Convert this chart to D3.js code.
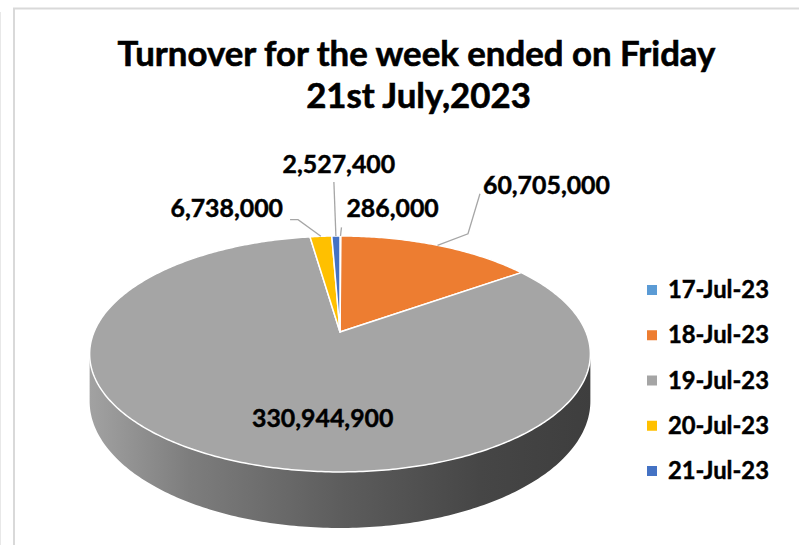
<!DOCTYPE html>
<html>
<head>
<meta charset="utf-8">
<script src="https://cdn.jsdelivr.net/npm/d3@7/dist/d3.min.js"></script>
<style>
  html, body { margin: 0; padding: 0; background: #fff; }
  svg { display: block; }
  text { font-family: Lato, "Open Sans", sans-serif; font-weight: 700; fill: #000; stroke: #000; stroke-width: 0.45px; }
</style>
</head>
<body>
<svg id="chart" width="799" height="545"></svg>
<script>
// ---- data ----
const categories = ["17-Jul-23", "18-Jul-23", "19-Jul-23", "20-Jul-23", "21-Jul-23"];
const values = [286000, 60705000, 330944900, 6738000, 2527400];
const colors = ["#5b9bd5", "#ed7d31", "#a5a5a5", "#ffc000", "#4472c4"];
const titleLines = ["Turnover for the week ended on Friday", "21st July,2023"];

// ---- layout ----
const W = 799, H = 545;
const cx = 340, cy = 332;      // apex of the pie on screen
const B = 246, A = 113.9;      // horizontal / vertical radii
const P = 0.186;               // perspective factor
const DEPTH = 45.6;            // thickness

// label layout: offsets from the projected slice anchor (or from the apex when inside)
const labelLayout = [
  { tx: 6, ty: -18.6, anchor: "start", leader: [[1, -8.6]] },
  { tx: 45.5, ty: -51, anchor: "start", leader: [[30.5, -11.5], [42.5, -51.5]] },
  { inside: true, tx: -17.3, ty: 94.7, anchor: "middle", leader: null },
  { tx: -37.8, ty: -19.3, anchor: "end", leader: [[-22.8, -16.7], [-30.8, -16.7]] },
  { tx: 3, ty: -63, anchor: "middle", leader: [[-2, -54]] }
];

const svg = d3.select("#chart");

// chart area border
svg.append("line").attr("x1", 0.5).attr("x2", 0.5).attr("y1", 12).attr("y2", H)
  .attr("stroke", "#e8e8e8").attr("stroke-width", 1);
svg.append("rect").attr("x", 14).attr("y", 8.5).attr("width", W + 20).attr("height", H + 20)
  .attr("fill", "#fff").attr("stroke", "#d9d9d9").attr("stroke-width", 2);

function proj(a, r, z) {
  const u = Math.sin(a) * r, v = Math.cos(a) * r;
  const s = 1 / (1 + P * v);
  return [cx + B * u * s, cy - A * v * s + z * DEPTH * s];
}

const pie = d3.pie().sort(null).value(d => d.value).startAngle(0).endAngle(2 * Math.PI);
const data = categories.map((c, i) => ({ cat: c, value: values[i], color: colors[i], layout: labelLayout[i] }));
const arcs = pie(data);

const defs = svg.append("defs");
const grad = defs.append("linearGradient").attr("id", "sideGrad")
  .attr("gradientUnits", "userSpaceOnUse")
  .attr("x1", cx - B * 1.02).attr("x2", cx + B * 1.02).attr("y1", 0).attr("y2", 0);
[[0, "#a2a2a2"], [0.2, "#7d7d7d"], [0.5, "#5d5d5d"], [0.78, "#464646"], [1, "#3e3e3e"]]
  .forEach(([o, c]) => grad.append("stop").attr("offset", o).attr("stop-color", c));

// side wall (front silhouette)
const a1 = Math.acos(-P), a2 = 2 * Math.PI - a1;
const sidePts = [];
const N = 200;
for (let i = 0; i <= N; i++) { const a = a1 + (a2 - a1) * i / N; sidePts.push(proj(a, 1, 0)); }
for (let i = N; i >= 0; i--) { const a = a1 + (a2 - a1) * i / N; sidePts.push(proj(a, 1, 1)); }
svg.append("path").attr("d", d3.line()(sidePts) + "Z").attr("fill", "url(#sideGrad)");

// top face slices
const gTop = svg.append("g");
arcs.forEach(d => {
  const pts = [[cx, cy]];
  const n = Math.max(4, Math.ceil((d.endAngle - d.startAngle) * 80));
  for (let i = 0; i <= n; i++) {
    const a = d.startAngle + (d.endAngle - d.startAngle) * i / n;
    pts.push(proj(a, 1, 0));
  }
  gTop.append("path").attr("d", d3.line()(pts) + "Z")
    .attr("fill", d.data.color).attr("stroke", "#fff").attr("stroke-width", 1.5)
    .attr("stroke-linejoin", "round");
});

// data labels
const fmt = d3.format(",");
const gLab = svg.append("g");
const labelNodes = [];
arcs.forEach(d => {
  const mid = (d.startAngle + d.endAngle) / 2;
  const L = d.data.layout;
  const [ax, ay] = L.inside ? [cx, cy] : proj(mid, 1, 0);
  if (L.leader) {
    const pts = [[ax, ay]].concat(L.leader.map(([dx, dy]) => [ax + dx, ay + dy]));
    gLab.append("path").attr("d", d3.line()(pts)).attr("fill", "none")
      .attr("stroke", "#a6a6a6").attr("stroke-width", 1.3);
  }
  const t = gLab.append("text").attr("x", ax + L.tx).attr("y", ay + L.ty)
    .attr("text-anchor", L.anchor).attr("font-size", 24).text(fmt(d.value));
  labelNodes.push(t);
});

function fitSize(sel, target, base) {
  sel.attr("font-size", base);
  const w = sel.node().getComputedTextLength();
  return base * target / w;
}
// fit label font to reference width of "60,705,000" (~128px)
const labSize = fitSize(labelNodes[1], 127, 24);
labelNodes.forEach(t => t.attr("font-size", labSize));

// title
const t1 = svg.append("text").attr("x", 416.5).attr("y", 65.5).attr("text-anchor", "middle")
  .style("stroke-width", "0.6px").text(titleLines[0]);
const tSize = fitSize(t1, 598, 30);
t1.attr("font-size", tSize);
svg.append("text").attr("x", 418.5).attr("y", 107.5).attr("text-anchor", "middle")
  .style("stroke-width", "0.6px").attr("font-size", tSize).text(titleLines[1]);

// legend
const legY = d3.scalePoint().domain(categories).range([290, 471]);
const gLeg = svg.append("g");
const legTexts = [];
categories.forEach((c, i) => {
  gLeg.append("rect").attr("x", 647).attr("y", legY(c) - 5).attr("width", 10).attr("height", 10)
    .attr("fill", colors[i]);
  legTexts.push(gLeg.append("text").attr("x", 668).attr("y", legY(c) + 8).text(c));
});
const legSize = fitSize(legTexts[0], 101, 22);
legTexts.forEach(t => t.attr("font-size", legSize));
</script>
</body>
</html>
